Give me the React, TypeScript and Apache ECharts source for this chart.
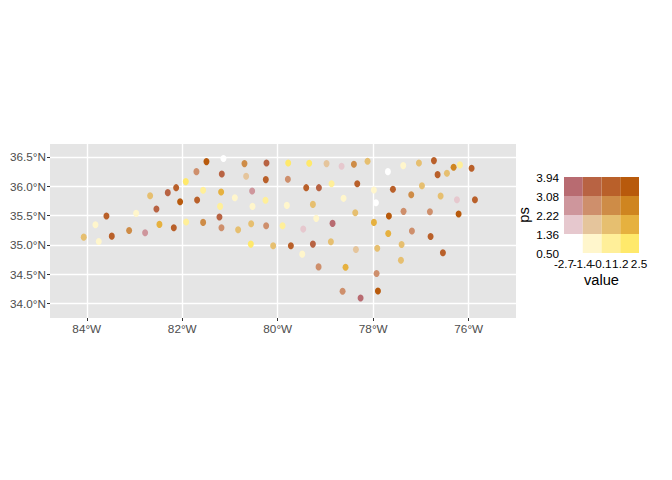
import React, { useEffect, useRef } from "react";
import * as echarts from "echarts";

const lons = [
  -84.063, -83.818, -83.749, -83.588, -83.476, -83.113, -82.966, -82.778, -82.673, -82.541,
  -82.478, -82.303, -82.177, -82.128, -82.045, -81.926, -81.919, -81.703, -81.689, -81.563,
  -81.563, -81.493, -81.221, -81.207, -81.186, -81.172, -81.179, -81.137, -80.899, -80.83,
  -80.697, -80.662, -80.564, -80.557, -80.536, -80.529, -80.257, -80.25, -80.243, -80.236,
  -80.096, -79.781, -79.341, -78.978, -78.663, -78.405, -78.119, -77.693, -77.372, -77.043,
  -76.729, -76.652, -76.457, -76.317, -76.184, -75.94, -79.788, -79.404, -79.138, -78.873,
  -78.335, -77.986, -77.588, -77.204, -76.98, -76.589, -76.247, -75.87, -79.809, -79.264,
  -78.622, -77.944, -78.377, -77.672, -77.365, -76.813, -76.212, -79.899, -79.466, -79.194,
  -78.852, -77.986, -77.686, -77.19, -76.799, -79.725, -79.264, -78.887, -78.363, -77.916,
  -77.406, -79.487, -76.541, -79.145, -78.58, -77.42, -77.93, -78.642, -78.265, -77.902,
];
const lats = [
  35.133, 35.344, 35.059, 35.492, 35.15, 35.247, 35.538, 35.207, 35.839, 35.612,
  35.35, 35.891, 35.293, 35.976, 35.737, 36.079, 35.39, 36.249, 35.765, 35.931,
  35.384, 36.42, 35.475, 35.657, 35.902, 36.21, 35.293, 36.472, 35.805, 35.259,
  36.386, 36.17, 35.014, 35.361, 35.919, 35.657, 35.76, 36.113, 35.327, 36.397,
  34.985, 36.397, 36.392, 36.386, 36.341, 36.375, 36.426, 36.249, 36.352, 36.397,
  36.437, 36.198, 36.221, 36.324, 36.364, 36.306, 36.118, 35.976, 35.976, 36.044,
  36.044, 35.936, 35.948, 35.856, 36.01, 35.834, 35.771, 35.771, 35.674, 35.691,
  35.794, 35.72, 35.549, 35.492, 35.572, 35.566, 35.526, 35.327, 35.27, 35.453,
  35.367, 35.384, 35.196, 35.236, 35.145, 34.985, 35.014, 35.054, 34.923, 34.945,
  35.008, 34.843, 34.866, 34.626, 34.621, 34.74, 34.513, 34.211, 34.097, 34.216,
];
// Class of each point: tens = ps class (0 low..3 high), units = value class (0 low..3 high)
const classes = [
  12, 1, 1, 32, 32, 22, 1, 20, 12, 31,
  13, 31, 32, 32, 33, 3, 2, 21, 32, 2,
  22, 33, 31, 2, 13, 31, 21, 0, 1, 12,
  22, 11, 3, 12, 20, 1, 2, 32, 21, 31,
  12, 3, 3, 11, 10, 22, 12, 0, 1, 12,
  32, 32, 12, 23, 2, 32, 21, 32, 31, 2,
  32, 1, 32, 22, 12, 12, 10, 32, 1, 12,
  1, 0, 12, 33, 21, 21, 33, 2, 10, 1,
  30, 13, 13, 21, 32, 32, 31, 12, 11, 12,
  12, 1, 32, 21, 13, 12, 21, 21, 30, 33,
];

const paletteRow0 = ["#FFFFFF", "#FFF6CC", "#FFEF99", "#FFE96B"];
const paletteRow1 = ["#E6C8CE", "#E5C59C", "#E6BF70", "#E6B13F"];
const paletteRow2 = ["#CE969C", "#CE8F6C", "#CE8C47", "#CF8520"];
const paletteRow3 = ["#B86B71", "#B86343", "#B9602A", "#B85A0C"];
const palette = [paletteRow0, paletteRow1, paletteRow2, paletteRow3];

const lonTicks = [-84, -82, -80, -78, -76];
const latTicks = [34, 34.5, 35, 35.5, 36, 36.5];
const legendValueLabels = ["-2.7", "-1.4", "-0.1", "1.2", "2.5"];
const legendPsLabels = ["0.50", "1.36", "2.22", "3.08", "3.94"];
const legendStops = [0, 1, 2, 3, 4];

const FONT = "Liberation Sans";

export default function App() {
  const ref = useRef<HTMLDivElement>(null);
  useEffect(() => {
    if (!ref.current) return;
    const chart = echarts.init(ref.current, undefined, { renderer: "svg" });
    const points = lons.map((lon, i) => [lon, lats[i], classes[i]]);
    const cells: number[][] = [];
    palette.forEach((row, r) => row.forEach((_, c) => cells.push([c, r])));
    const commonSplit = {
      show: true,
      showMinLine: true,
      showMaxLine: true,
      lineStyle: { color: "#FFFFFF", width: 1.4 },
    };
    chart.setOption({
      animation: false,
      backgroundColor: "#FFFFFF",
      textStyle: { fontFamily: FONT },
      grid: [
        { left: 50, top: 144, width: 466, height: 174, show: true, backgroundColor: "#E5E5E5", borderWidth: 0 },
        { left: 564, top: 177, width: 75, height: 76, show: false },
      ],
      xAxis: [
        {
          gridIndex: 0,
          type: "value",
          min: -84.77,
          max: -75.01,
          interval: 2,
          axisLine: { show: false },
          axisTick: { show: true, length: 3, customValues: lonTicks, lineStyle: { color: "#333333", width: 1 } },
          axisLabel: {
            customValues: lonTicks,
            formatter: (v: number) => `${Math.abs(v)}°W`,
            color: "#4D4D4D",
            fontSize: 11.73,
            fontFamily: FONT,
            margin: 4,
          },
          splitLine: commonSplit,
        },
        {
          gridIndex: 1,
          type: "category",
          data: legendValueLabels,
          boundaryGap: false,
          axisLine: { show: false },
          axisTick: { show: false },
          splitLine: { show: false },
          axisLabel: {
            interval: 0,
            color: "#000000",
            fontSize: 11.73,
            fontFamily: FONT,
            margin: 4,
            hideOverlap: false,
          },
          name: "value",
          nameLocation: "middle",
          nameGap: 19,
          nameTextStyle: { color: "#000000", fontSize: 14.67, fontFamily: FONT },
        },
      ],
      yAxis: [
        {
          gridIndex: 0,
          type: "value",
          min: 33.755,
          max: 36.72,
          interval: 0.5,
          axisLine: { show: false },
          axisTick: { show: true, length: 3, customValues: latTicks, lineStyle: { color: "#333333", width: 1 } },
          axisLabel: {
            customValues: latTicks,
            formatter: (v: number) => `${v.toFixed(1)}°N`,
            color: "#4D4D4D",
            fontSize: 11.73,
            fontFamily: FONT,
            margin: 4,
          },
          splitLine: commonSplit,
        },
        {
          gridIndex: 1,
          type: "value",
          min: 0,
          max: 4,
          interval: 1,
          axisLine: { show: false },
          axisTick: { show: false },
          splitLine: { show: false },
          axisLabel: {
            customValues: legendStops,
            formatter: (v: number) => legendPsLabels[v],
            color: "#000000",
            fontSize: 11.73,
            fontFamily: FONT,
            margin: 5,
            hideOverlap: false,
            showMinLabel: true,
            showMaxLabel: true,
          },
          name: "ps",
          nameLocation: "middle",
          nameGap: 33,
          nameTextStyle: { color: "#000000", fontSize: 14.67, fontFamily: FONT },
        },
      ],
      series: [
        {
          type: "scatter",
          xAxisIndex: 0,
          yAxisIndex: 0,
          symbol: "circle",
          symbolSize: [6, 7],
          data: points,
          itemStyle: {
            opacity: 1,
            color: (p: any) => {
              const code = p.data[2];
              return palette[Math.floor(code / 10)][code % 10];
            },
          },
          silent: true,
        },
        {
          type: "custom",
          xAxisIndex: 1,
          yAxisIndex: 1,
          data: cells,
          silent: true,
          renderItem: (_: any, api: any) => {
            const c = api.value(0);
            const r = api.value(1);
            const a = api.coord([c, r + 1]);
            const b = api.coord([c + 1, r]);
            return {
              type: "rect",
              shape: { x: a[0], y: a[1], width: b[0] - a[0], height: b[1] - a[1] },
              style: { fill: palette[r][c] },
            };
          },
        },
      ],
    });
    return () => chart.dispose();
  }, []);
  return <div ref={ref} style={{ position: "absolute", left: 0, top: 0, width: 672, height: 480 }} />;
}
